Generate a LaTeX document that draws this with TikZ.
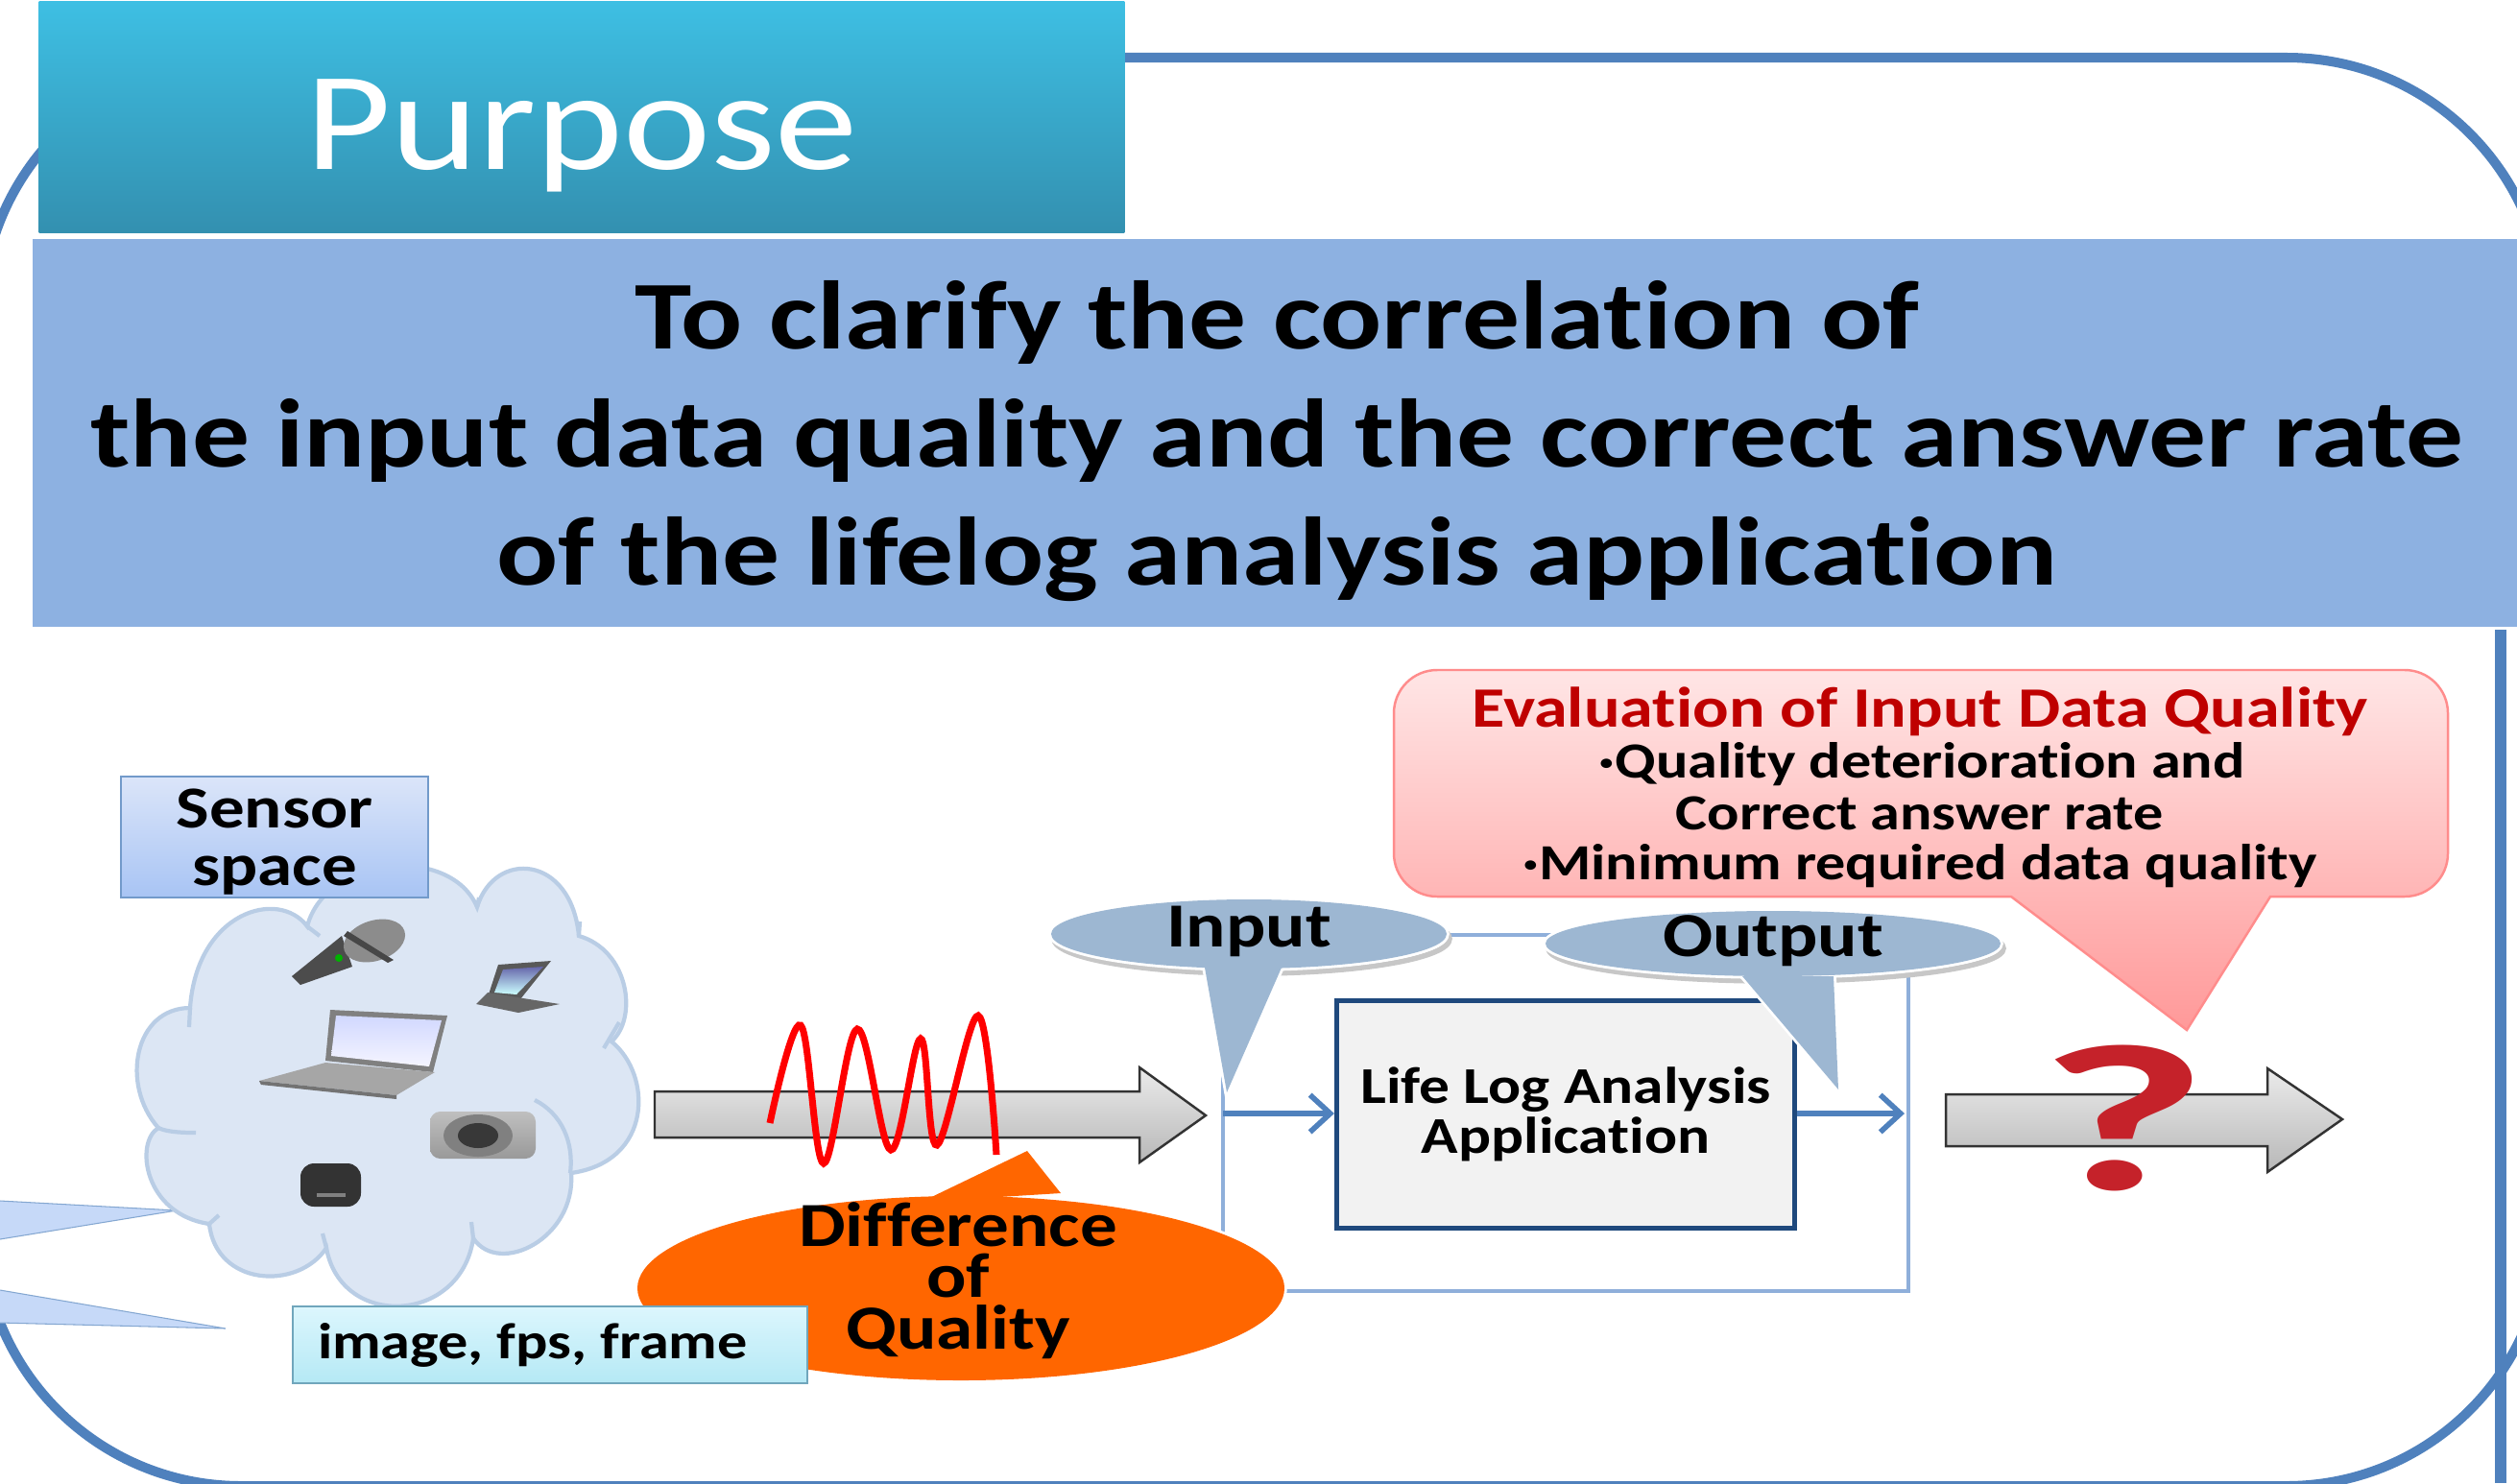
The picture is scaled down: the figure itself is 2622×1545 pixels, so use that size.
\documentclass[tikz,border=0pt]{standalone}
\usepackage{fontspec}
\setmainfont[FakeStretch=1.18, Ligatures=NoCommon]{Carlito}
\usetikzlibrary{arrows.meta}
\definecolor{framec}{HTML}{4F81BD}
\definecolor{barc}{HTML}{8DB1E1}
\definecolor{loopc}{HTML}{8FAFDA}
\definecolor{calloutc}{HTML}{9DB7D2}
\definecolor{cloudc}{HTML}{DCE6F4}
\definecolor{cloude}{HTML}{B9CDE5}
\definecolor{tipc}{HTML}{C6D9F8}
\definecolor{purptop}{HTML}{3EBFE3}
\definecolor{purpbot}{HTML}{3390B0}
\definecolor{sensortop}{HTML}{DBE5F9}
\definecolor{sensorbot}{HTML}{A8C4F4}
\definecolor{imagetop}{HTML}{DCF6FD}
\definecolor{imagebot}{HTML}{B5E9F5}
\definecolor{orangec}{HTML}{FF6600}
\definecolor{lifec}{HTML}{1F497D}
\definecolor{qmarkc}{HTML}{C5222A}
\tikzset{
  frameline/.style={framec, line width=2.85pt},
  purposebox/.style={top color=purptop, bottom color=purpbot, minimum width=11.3cm, minimum height=2.4cm, text=white},
  barbox/.style={fill=barc, draw=white, line width=1pt, align=center, font=\bfseries\fontsize{28.8}{35}\selectfont},
  bluebox/.style={top color=sensortop, bottom color=sensorbot, draw=framec!80, line width=.6pt, align=center},
  bigarrow/.style={top color=white!92!black, bottom color=black!28, draw=black!80, line width=.7pt},
  flow/.style={framec, line width=1.6pt, -{Straight Barb[length=6pt,width=11pt]}},
  lbl/.style={font=\bfseries\fontsize{18.6}{15.3}\selectfont, align=center},
  evl/.style={font=\bfseries\fontsize{15}{15}\selectfont}
}
\begin{document}
\begin{tikzpicture}[x=.01cm, y=-.01cm]
\clip (0,0) rectangle (2622,1545);
\fill[white] (0,0) rectangle (2622,1545);
\draw[frameline, rounded corners=2.7cm] (-19,60) rectangle (2652,1548);
\draw[framec, line width=3.4pt] (2605,654)--(2605,1545);
\node[purposebox, inner sep=0] (purpose) at (606,122) {\raisebox{-.54cm}[0pt][0pt]{\fontsize{41.6}{45}\selectfont Purpose}};
\node[barbox, minimum width=25.94cm, minimum height=4.07cm, inner sep=0] (goal) at (1330,451) {\rule{0pt}{25pt}To clarify the correlation of\\the input data quality and the correct answer rate\\of the lifelog analysis application};
\foreach \ax/\ay/\tx/\ty/\bx/\by in {0/1251/184/1261/0/1291, 0/1344/235/1384/0/1378} {
 \draw[fill=tipc, draw=framec!70, line width=.3pt] (\ax,\ay)--(\tx,\ty)--(\bx,\by);
}
\draw[fill=cloudc, draw=cloude, line width=1.2pt] (198,1050) .. controls (205,950) and (290,925) .. (320,965) .. controls (340,890) and (470,880) .. (497,945) .. controls (515,885) and (595,890) .. (603,975) .. controls (655,990) and (665,1060) .. (637,1085) .. controls (680,1120) and (680,1210) .. (595,1222) .. controls (600,1290) and (520,1330) .. (493,1290) .. controls (480,1380) and (355,1385) .. (340,1300) .. controls (310,1345) and (225,1340) .. (218,1275) .. controls (150,1265) and (140,1190) .. (165,1175) .. controls (125,1130) and (140,1050) .. cycle;
\draw[cloude, line width=1.2pt] (320,965)--(333,975) (497,945)--(499,935) (603,975)--(604,960) (645,1065)--(629,1092) (557,1146) .. controls (585,1160) and (598,1190) .. (594,1222) (493,1290)--(491,1273) (340,1300)--(336,1285) (218,1275)--(228,1266) (165,1175) .. controls (175,1180) and (195,1180) .. (204,1180) (198,1050)--(197,1070);
\node[bluebox, minimum width=3.19cm, minimum height=1.26cm, inner sep=0, font=\bfseries\fontsize{17.6}{17}\selectfont] (sensor) at (286,872) {\rule{0pt}{14.5pt}Sensor\\space};
\fill[black!70] (304,1017)--(313,1026)--(367,1007)--(356,975)--cycle;
\fill[black!45, rotate around={18:(390,980)}] (390,980) ellipse [x radius=33, y radius=21];
\fill[black!72] (362,970)--(410,1000)--(404,1003)--(358,975)--cycle;
\fill[green!70!black] (353,998) circle (4);
\fill[black!65] (519,1005)--(574,1001)--(542,1041)--(508,1039)--cycle;
\shade[top color=blue!45!black!60, bottom color=cyan!20] (524,1010)--(566,1007)--(538,1036)--(515,1034)--cycle;
\fill[black!60] (496,1046)--(508,1034)--(545,1040)--(583,1046)--(540,1055)--cycle;
\fill[black!50] (344,1052)--(466,1058)--(451,1117)--(339,1105)--cycle;
\shade[top color=cyan!15!blue!18, bottom color=blue!4] (350,1058)--(460,1063)--(447,1111)--(345,1100)--cycle;
\fill[black!35] (270,1126)--(339,1107)--(453,1117)--(413,1141)--cycle;
\fill[black!55] (270,1126)--(413,1141)--(413,1145)--(272,1130)--cycle;
\shade[top color=black!25, bottom color=black!40, rounded corners=3] (448,1158) rectangle (558,1207);
\fill[black!50] (498,1183) ellipse [x radius=36, y radius=22];
\fill[black!78] (498,1183) ellipse [x radius=21, y radius=13];
\fill[black!80, rounded corners=4] (313,1212) rectangle (376,1257);
\fill[black!50] (330,1243)--(360,1243)--(360,1247)--(330,1247)--cycle;
\draw[bigarrow] (682,1137)--(1187,1137)--(1187,1112)--(1256,1162)--(1187,1211)--(1187,1185)--(682,1185)--cycle;
\draw[red, line width=2pt] plot[smooth, tension=.6] coordinates {(802,1170) (834,1068) (858,1212) (893,1072) (928,1198) (959,1082) (976,1193) (1019,1058) (1038,1203)};
\draw[loopc, line width=1.4pt] (1274,974) rectangle (1988,1345);
\coordinate (inA) at (1274,1160);
\coordinate (outB) at (1984,1160);
\node[fill=black!5, draw=lifec, line width=1.4pt, minimum width=4.77cm, minimum height=2.36cm, inner sep=0, align=center, font=\bfseries\fontsize{15.3}{14.8}\selectfont] (life) at (1631,1161) {Life Log Analysis\\Application};
\draw[flow] (inA)--(life.west |- inA);
\draw[flow] (life.east |- inA)--(outB);
\foreach \cx/\cy/\rx/\ry/\ax/\bx/\by/\tx/\ty/\ly/\txt in {1301/973/206/36/1255/1335/1008/1278/1138/970/Input, 1847/983/237/34/1815/1910/1017/1915/1135/980/Output} {
 \begin{scope}[shift={(3,5)}]
  \draw[black!22, line width=1.6pt] (\cx,\cy) ellipse [x radius=\rx, y radius=\ry];
 \end{scope}
 \draw[white, line width=1.6pt] (\cx,\cy) ellipse [x radius=\rx, y radius=\ry];
 \draw[white, line width=1.6pt] (\ax,\by)--(\tx,\ty)--(\bx,\by);
 \fill[calloutc] (\cx,\cy) ellipse [x radius=\rx, y radius=\ry];
 \fill[calloutc] (\ax,\by)--(\tx,\ty)--(\bx,\by)--cycle;
 \node[lbl] (\txt) at (\cx,\ly) {\txt};
}
\draw[white, line width=1.6pt] (1001,1342) ellipse [x radius=337, y radius=96];
\draw[white, line width=1.6pt] (960,1252)--(1070,1199)--(1105,1243);
\fill[orangec] (1001,1342) ellipse [x radius=337, y radius=96];
\fill[orangec] (960,1252)--(1070,1199)--(1105,1243)--cycle;
\node[lbl] (diff) at (998,1334) {Difference\\of\\Quality};
\node[top color=imagetop, bottom color=imagebot, draw=cyan!60!black!70, line width=.6pt, minimum width=5.35cm, minimum height=.8cm, inner sep=0, font=\bfseries\fontsize{15}{18}\selectfont] (image) at (573,1401) {image, fps, frame\hspace*{.36cm}};
\shade[top color=red!10, bottom color=red!40, draw=red!45, line width=.7pt] (2095,934) [rounded corners=.45cm] --(1452,934)--(1452,698)--(2550,698)--(2550,934)--(2420,934) [sharp corners] --(2365,934)--(2278,1073)--cycle;
\node[font=\bfseries\fontsize{16.9}{20}\selectfont, text=red!75!black] (evaltitle) at (2000,741) {Evaluation of Input Data Quality};
\node[evl] (eval1) at (2002,796) {·Quality deterioration and};
\node[evl] (eval2) at (2000,847) {Correct  answer rate};
\node[evl] (eval3) at (2000,902) {·Minimum required data quality};
\draw[bigarrow] (2027,1140)--(2362,1140)--(2362,1113)--(2440,1166)--(2362,1221)--(2362,1194)--(2027,1194)--cycle;
\node[text=qmarkc, font=\bfseries\fontsize{62}{62}\selectfont, inner sep=0] (qmark) at (2212,1165) {\scalebox{1.5}[1]{?}};
\end{tikzpicture}
\end{document}
